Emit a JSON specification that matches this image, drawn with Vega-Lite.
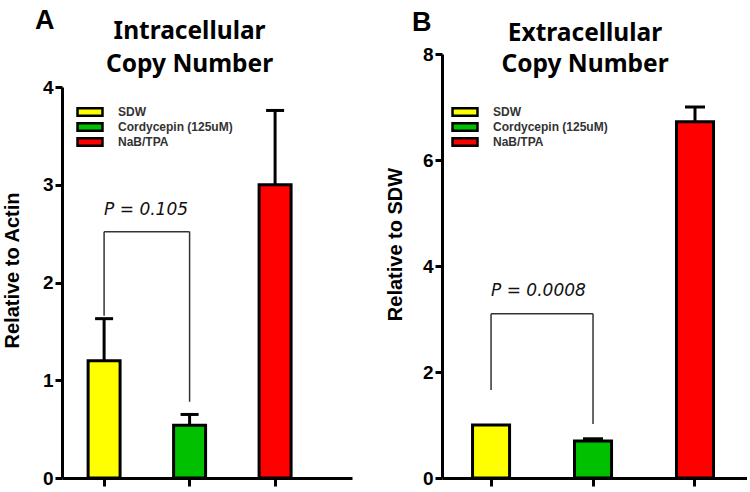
{
  "$schema": "https://vega.github.io/schema/vega-lite/v6.json",
  "padding": {"left": 2, "top": 7, "right": 0, "bottom": 0},
  "background": "white",
  "config": {
    "view": {"stroke": null},
    "axis": {
      "domainWidth": 3, "domainColor": "black", "tickWidth": 3, "tickColor": "black", "tickSize": 7,
      "labelFont": "Liberation Sans", "labelFontSize": 19, "labelFontWeight": "bold", "labelColor": "black", "labelPadding": 2,
      "titleFont": "Liberation Sans", "titleFontSize": 20, "titleFontWeight": "bold", "titleColor": "black", "grid": false
    },
    "legend": {
      "orient": "none", "title": null, "symbolType": "M-4,-1.2H4V1.2H-4Z", "symbolSize": 39,
      "symbolStrokeColor": "black", "symbolStrokeWidth": 2.5, "labelFont": "Liberation Sans", "labelFontSize": 12,
      "labelFontWeight": "bold", "labelColor": "#333", "rowPadding": -4, "labelOffset": 22
    },
    "title": {"font": "Liberation Sans", "fontSize": 27, "fontWeight": "bold", "color": "black", "anchor": "start", "frame": "group", "offset": -16}
  },
  "datasets": {
    "barsA": [
      {"group": "SDW", "mean": 1.2, "upper": 1.63},
      {"group": "Cordycepin (125uM)", "mean": 0.54, "upper": 0.65},
      {"group": "NaB/TPA", "mean": 3.0, "upper": 3.76}
    ],
    "barsB": [
      {"group": "SDW", "mean": 1.0, "upper": null},
      {"group": "Cordycepin (125uM)", "mean": 0.7, "upper": 0.74},
      {"group": "NaB/TPA", "mean": 6.72, "upper": 7.0}
    ],
    "legsA": [
      {"group": "SDW", "bottom": 1.66, "top": 2.52},
      {"group": "Cordycepin (125uM)", "bottom": 0.78, "top": 2.52}
    ],
    "legsB": [
      {"group": "SDW", "bottom": 1.66, "top": 3.1},
      {"group": "Cordycepin (125uM)", "bottom": 1.02, "top": 3.1}
    ],
    "spanA": [{"left": "SDW", "right": "Cordycepin (125uM)", "top": 2.52, "label": "P = 0.105", "labelY": 2.74}],
    "spanB": [{"left": "SDW", "right": "Cordycepin (125uM)", "top": 3.1, "label": "P = 0.0008", "labelY": 3.53}],
    "headA": [{"group": "Cordycepin (125uM)", "text": "Intracellular\nCopy Number", "y": 4.56}],
    "headB": [{"group": "Cordycepin (125uM)", "text": "Extracellular\nCopy Number", "y": 8.38}]
  },
  "hconcat": [
    {
      "width": 290, "height": 424,
      "title": {"text": "A", "dx": -27},
      "layer": [
        {
          "data": {"name": "barsA"},
          "mark": {"type": "bar", "stroke": "black", "strokeWidth": 3},
          "encoding": {
            "x": {"field": "group", "type": "nominal", "scale": {"domain": ["SDW", "Cordycepin (125uM)", "NaB/TPA"], "paddingInner": 0.626, "paddingOuter": 0.509, "align": 0.3},
                  "axis": {"labels": false, "title": null, "tickSize": 8}},
            "y": {"field": "mean", "type": "quantitative", "scale": {"domain": [0, 4], "range": [424, 33], "nice": false},
                  "axis": {"values": [0, 1, 2, 3, 4], "format": "d", "title": "Relative to Actin", "titlePadding": 20, "titleY": 216}},
            "color": {"field": "group", "type": "nominal",
                      "scale": {"domain": ["SDW", "Cordycepin (125uM)", "NaB/TPA"], "range": ["#FFFF00", "#00C000", "#FF0000"]},
                      "legend": {"legendX": 22, "legendY": 52}}
          }
        },
        {
          "data": {"name": "barsA"},
          "mark": {"type": "rule", "strokeWidth": 3, "color": "black"},
          "encoding": {"x": {"field": "group", "type": "nominal"}, "y": {"field": "mean", "type": "quantitative"}, "y2": {"field": "upper"}}
        },
        {
          "data": {"name": "barsA"},
          "mark": {"type": "tick", "orient": "horizontal", "size": 18, "thickness": 3, "color": "black", "opacity": 1},
          "encoding": {"x": {"field": "group", "type": "nominal"}, "y": {"field": "upper", "type": "quantitative"}}
        },
        {
          "data": {"name": "legsA"},
          "mark": {"type": "rule", "strokeWidth": 1.5, "color": "#333"},
          "encoding": {"x": {"field": "group", "type": "nominal"}, "y": {"field": "bottom", "type": "quantitative"}, "y2": {"field": "top"}}
        },
        {
          "data": {"name": "spanA"},
          "mark": {"type": "rule", "strokeWidth": 1.5, "color": "#333"},
          "encoding": {"x": {"field": "left", "type": "nominal"}, "x2": {"field": "right"}, "y": {"field": "top", "type": "quantitative"}}
        },
        {
          "data": {"name": "spanA"},
          "mark": {"type": "text", "align": "left", "baseline": "middle", "font": "DejaVu Sans", "fontStyle": "italic", "fontSize": 17, "color": "#111"},
          "encoding": {"x": {"field": "left", "type": "nominal"}, "y": {"field": "labelY", "type": "quantitative"}, "text": {"field": "label"}}
        },
        {
          "data": {"name": "headA"},
          "mark": {"type": "text", "align": "center", "baseline": "middle", "font": "Noto Sans", "fontWeight": "bold", "fontSize": 24.5, "lineBreak": "\n", "lineHeight": 33, "color": "black"},
          "encoding": {"x": {"field": "group", "type": "nominal"}, "y": {"field": "y", "type": "quantitative"}, "text": {"field": "text"}}
        }
      ]
    },
    {
      "width": 305, "height": 424,
      "title": {"text": "B", "dx": -30},
      "layer": [
        {
          "data": {"name": "barsB"},
          "mark": {"type": "bar", "stroke": "black", "strokeWidth": 3},
          "encoding": {
            "x": {"field": "group", "type": "nominal", "scale": {"domain": ["SDW", "Cordycepin (125uM)", "NaB/TPA"], "paddingInner": 0.637, "paddingOuter": 0.314, "align": 0.477},
                  "axis": {"labels": false, "title": null, "tickSize": 8}},
            "y": {"field": "mean", "type": "quantitative", "scale": {"domain": [0, 8], "nice": false},
                  "axis": {"values": [0, 2, 4, 6, 8], "format": "d", "title": "Relative to SDW", "titlePadding": 17, "titleY": 190}},
            "color": {"field": "group", "type": "nominal",
                      "scale": {"domain": ["SDW", "Cordycepin (125uM)", "NaB/TPA"], "range": ["#FFFF00", "#00C000", "#FF0000"]},
                      "legend": {"legendX": 17, "legendY": 52}}
          }
        },
        {
          "data": {"name": "barsB"},
          "mark": {"type": "rule", "strokeWidth": 3, "color": "black"},
          "encoding": {"x": {"field": "group", "type": "nominal"}, "y": {"field": "mean", "type": "quantitative"}, "y2": {"field": "upper"}}
        },
        {
          "data": {"name": "barsB"},
          "mark": {"type": "tick", "orient": "horizontal", "size": 20, "thickness": 3, "color": "black", "opacity": 1},
          "encoding": {"x": {"field": "group", "type": "nominal"}, "y": {"field": "upper", "type": "quantitative"}}
        },
        {
          "data": {"name": "legsB"},
          "mark": {"type": "rule", "strokeWidth": 1.5, "color": "#333"},
          "encoding": {"x": {"field": "group", "type": "nominal"}, "y": {"field": "bottom", "type": "quantitative"}, "y2": {"field": "top"}}
        },
        {
          "data": {"name": "spanB"},
          "mark": {"type": "rule", "strokeWidth": 1.5, "color": "#333"},
          "encoding": {"x": {"field": "left", "type": "nominal"}, "x2": {"field": "right"}, "y": {"field": "top", "type": "quantitative"}}
        },
        {
          "data": {"name": "spanB"},
          "mark": {"type": "text", "align": "left", "baseline": "middle", "font": "DejaVu Sans", "fontStyle": "italic", "fontSize": 17, "color": "#111"},
          "encoding": {"x": {"field": "left", "type": "nominal"}, "y": {"field": "labelY", "type": "quantitative"}, "text": {"field": "label"}}
        },
        {
          "data": {"name": "headB"},
          "mark": {"type": "text", "align": "center", "baseline": "middle", "dx": -8, "font": "Noto Sans", "fontWeight": "bold", "fontSize": 24.5, "lineBreak": "\n", "lineHeight": 31, "color": "black"},
          "encoding": {"x": {"field": "group", "type": "nominal"}, "y": {"field": "y", "type": "quantitative"}, "text": {"field": "text"}}
        }
      ]
    }
  ],
  "spacing": 90,
  "bounds": "flush",
  "resolve": {"scale": {"color": "independent", "y": "independent", "x": "independent"}, "legend": {"color": "independent"}}
}
